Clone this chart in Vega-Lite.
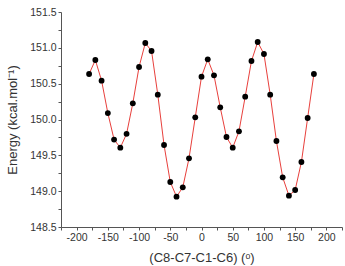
{
  "$schema": "https://vega.github.io/schema/vega-lite/v6.json",
  "width": 281,
  "height": 215,
  "autosize": "none",
  "padding": {"left": 61, "top": 12, "right": 3, "bottom": 39},
  "background": "white",
  "config": {
    "view": {"stroke": null},
    "font": "Liberation Sans",
    "axis": {
      "grid": false,
      "domainColor": "#555555",
      "tickColor": "#555555",
      "labelColor": "#333333",
      "titleColor": "#333333",
      "labelFont": "Liberation Sans",
      "titleFont": "Liberation Sans",
      "labelFontSize": 10.5,
      "titleFontSize": 13,
      "titleFontWeight": "normal",
      "tickSize": 3
    }
  },
  "data": {
    "values": [
      {"angle": -180, "energy": 150.635},
      {"angle": -170, "energy": 150.83},
      {"angle": -160, "energy": 150.542},
      {"angle": -150, "energy": 150.09},
      {"angle": -140, "energy": 149.72},
      {"angle": -130, "energy": 149.607},
      {"angle": -120, "energy": 149.8},
      {"angle": -110, "energy": 150.226},
      {"angle": -100, "energy": 150.733},
      {"angle": -90, "energy": 151.067},
      {"angle": -80, "energy": 150.956},
      {"angle": -70, "energy": 150.347},
      {"angle": -60, "energy": 149.644},
      {"angle": -50, "energy": 149.128},
      {"angle": -40, "energy": 148.923},
      {"angle": -30, "energy": 149.053},
      {"angle": -20, "energy": 149.458},
      {"angle": -10, "energy": 150.03},
      {"angle": 0, "energy": 150.598},
      {"angle": 10, "energy": 150.84},
      {"angle": 20, "energy": 150.616},
      {"angle": 30, "energy": 150.17},
      {"angle": 40, "energy": 149.756},
      {"angle": 50, "energy": 149.607},
      {"angle": 60, "energy": 149.835},
      {"angle": 70, "energy": 150.319},
      {"angle": 80, "energy": 150.816},
      {"angle": 90, "energy": 151.081},
      {"angle": 100, "energy": 150.914},
      {"angle": 110, "energy": 150.347},
      {"angle": 120, "energy": 149.7},
      {"angle": 130, "energy": 149.193},
      {"angle": 140, "energy": 148.937},
      {"angle": 150, "energy": 149.016},
      {"angle": 160, "energy": 149.407},
      {"angle": 170, "energy": 150.021},
      {"angle": 180, "energy": 150.635}
    ]
  },
  "encoding": {
    "x": {
      "field": "angle",
      "type": "quantitative",
      "scale": {"domain": [-225, 225], "nice": false, "zero": false},
      "axis": {
        "title": "(C8-C7-C1-C6) (ᵒ)",
        "values": [-225, -200, -175, -150, -125, -100, -75, -50, -25, 0, 25, 50, 75, 100, 125, 150, 175, 200, 225],
        "labelExpr": "datum.value % 50 == 0 && abs(datum.value) <= 200 ? replace(datum.label, '−', '-') : ''",
        "labelPadding": 2,
        "titlePadding": 9
      }
    },
    "y": {
      "field": "energy",
      "type": "quantitative",
      "scale": {"domain": [148.5, 151.5], "nice": false, "zero": false},
      "axis": {
        "title": "Energy (kcal.mol⁻¹)",
        "values": [148.5, 148.75, 149, 149.25, 149.5, 149.75, 150, 150.25, 150.5, 150.75, 151, 151.25, 151.5],
        "format": ".1f",
        "labelExpr": "(datum.value * 2) % 1 == 0 ? datum.label : ''",
        "labelPadding": 2,
        "titlePadding": 10
      }
    }
  },
  "layer": [
    {"mark": {"type": "line", "color": "#e8403c", "strokeWidth": 1}},
    {"mark": {"type": "point", "filled": true, "color": "black", "opacity": 1, "size": 34}}
  ]
}
